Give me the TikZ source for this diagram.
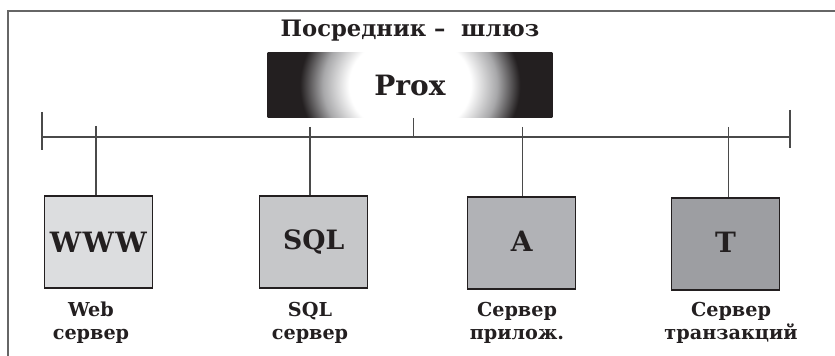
\documentclass[tikz,border=0pt]{standalone}
\usepackage{fontspec}
\setmainfont{DejaVu Serif}
\definecolor{ink}{HTML}{231F20}
\definecolor{proxdark}{HTML}{231F20}
\definecolor{glowgray}{HTML}{A8A8AA}
\definecolor{framegray}{HTML}{666666}
\definecolor{linegray}{HTML}{4A4A4A}
\definecolor{fillA}{HTML}{DCDDDF}
\definecolor{fillB}{HTML}{C6C7C9}
\definecolor{fillC}{HTML}{B1B2B6}
\definecolor{fillD}{HTML}{9D9EA2}
\pgfdeclareradialshading{proxglow}{\pgfpoint{0bp}{0bp}}{color(0bp)=(white); color(5.25bp)=(white); color(7.5bp)=(glowgray); color(9.5bp)=(proxdark); color(50bp)=(proxdark)}
\tikzset{
  srvbox/.style={draw=ink, line width=0.8pt, minimum width=81pt, minimum height=69pt, inner sep=0pt,
    font=\fontsize{21}{24}\selectfont\bfseries, text=ink},
  srvlabel/.style={align=center, font=\fontsize{14.4}{17.3}\selectfont\bfseries, text=ink, inner sep=0pt},
  busline/.style={draw=linegray, line width=0.9pt},
  tickline/.style={draw=linegray, line width=1.1pt},
  frameline/.style={draw=framegray, line width=1.2pt}
}
\begin{document}
\begin{tikzpicture}[x=0.75pt,y=-0.75pt]
\useasboundingbox (0,0) rectangle (835,356);
% frame
\draw[frameline] (8,357) -- (8,11) -- (836,11);
% title
\node[font=\fontsize{17}{20}\selectfont\bfseries, text=ink, anchor=base] (title) at (410,37) {Посредник –\ \ шлюз};
% Prox box
\node[fill=proxdark, minimum width=213pt, minimum height=48.75pt, inner sep=0pt] (prox) at (410,85) {};
\begin{scope}
  \clip (prox.south west) rectangle (prox.north east);
  \shade[shading=proxglow] (410,85) ellipse [x radius=290, y radius=240];
\end{scope}
\node[font=\fontsize{21}{24}\selectfont\bfseries, text=ink, anchor=base] (proxtext) at (410,96) {Prox};
% bus
\coordinate (busL) at (42,137);
\coordinate (busR) at (790,137);
\coordinate (tickLt) at (42,112);
\coordinate (tickLb) at (42,150);
\coordinate (tickRt) at (790,110);
\coordinate (tickRb) at (790,148);
\coordinate (busC) at (413.5,137);
\draw[busline] (busL) -- (busR);
\draw[tickline] (tickLt) -- (tickLb);
\draw[tickline] (tickRt) -- (tickRb);
\draw[busline] (prox.south -| busC) -- (busC);
% server boxes
\node[srvbox, fill=fillA] (www) at (98.3,242) {W\kern1ptW\kern1ptW};
\node[srvbox, fill=fillB] (sql) at (313.8,242) {\fontsize{20}{24}\selectfont SQL};
\node[srvbox, fill=fillC] (app) at (521.7,243) {\raisebox{3pt}{A}};
\node[srvbox, fill=fillD] (trn) at (725.5,244) {\raisebox{2pt}{T}};
% drops
\coordinate (d1) at (96,126);
\coordinate (d2) at (310,127);
\coordinate (d3) at (522.7,127);
\coordinate (d4) at (728.3,127);
\draw[busline] (d1) -- (d1 |- www.north);
\draw[busline] (d2) -- (d2 |- sql.north);
\draw[busline] (d3) -- (d3 |- app.north);
\draw[busline] (d4) -- (d4 |- trn.north);
% labels
\node[srvlabel, anchor=north] (lwww) at (91,302) {Web\\сервер};
\node[srvlabel, anchor=north] (lsql) at (310,302) {SQL\\сервер};
\node[srvlabel, anchor=north] (lapp) at (517,302) {Сервер\\прилож.};
\node[srvlabel, anchor=north] (ltrn) at (731,302) {Сервер\\транзакций};
\end{tikzpicture}
\end{document}
